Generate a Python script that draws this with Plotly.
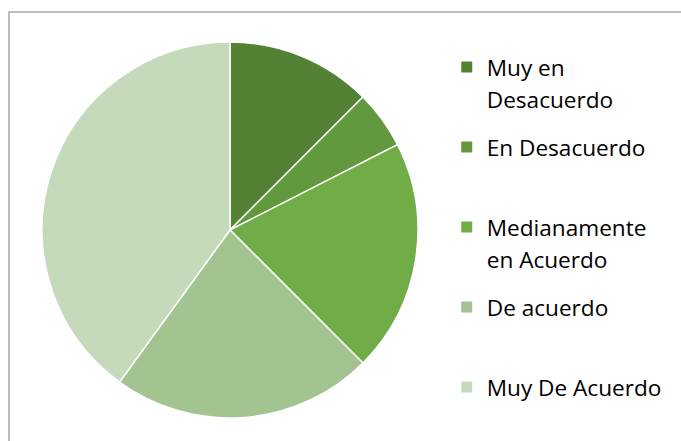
import plotly.graph_objects as go

labels = ["Muy en Desacuerdo", "En Desacuerdo", "Medianamente en Acuerdo", "De acuerdo", "Muy De Acuerdo"]
legend_text = [
    "Muy en<br>Desacuerdo",
    "En Desacuerdo<br> ",
    "Medianamente<br>en Acuerdo",
    "De acuerdo<br> ",
    "Muy De Acuerdo<br> ",
]
values = [5, 2, 8, 9, 16]
colors = ["#548235", "#62993E", "#70AD47", "#A3C490", "#C5D9BB"]

fig = go.Figure()
fig.add_trace(
    go.Pie(
        labels=labels,
        values=values,
        marker=dict(colors=colors, line=dict(color="white", width=1.5)),
        sort=False,
        direction="clockwise",
        rotation=0,
        textinfo="none",
        showlegend=False,
        hovertemplate="%{label}: %{value}<extra></extra>",
        domain=dict(x=[0.0617, 0.6138], y=[0.052, 0.905]),
    )
)

# legend entries, one group each so the spacing matches the original
for name, text, color in zip(labels, legend_text, colors):
    fig.add_trace(
        go.Scatter(
            x=[None],
            y=[None],
            mode="markers",
            name=f"<span style='font-size:22.6px'>{text}</span>",
            legendgroup=name,
            marker=dict(symbol="square", size=11, color=color),
            hoverinfo="skip",
        )
    )

fig.update_layout(
    width=681,
    height=441,
    margin=dict(l=0, r=0, t=0, b=0),
    paper_bgcolor="white",
    plot_bgcolor="white",
    xaxis=dict(visible=False),
    yaxis=dict(visible=False),
    font=dict(family="Open Sans", color="#000000"),
    legend=dict(
        x=0.656,
        y=0.878,
        xanchor="left",
        yanchor="top",
        valign="top",
        traceorder="grouped",
        tracegroupgap=14.6,
        font=dict(size=24, family="Open Sans", color="#000000"),
        itemwidth=30,
        bgcolor="rgba(0,0,0,0)",
    ),
    shapes=[
        dict(type="rect", xref="paper", yref="paper", x0=0.0132, x1=1.05, y0=-0.05, y1=0.973,
             line=dict(color="#A6A6A6", width=1.5)),
    ],
)

fig.write_html(
    "out.html",
    config={"displayModeBar": False},
    post_script="document.body.style.margin = '0px';",
)
